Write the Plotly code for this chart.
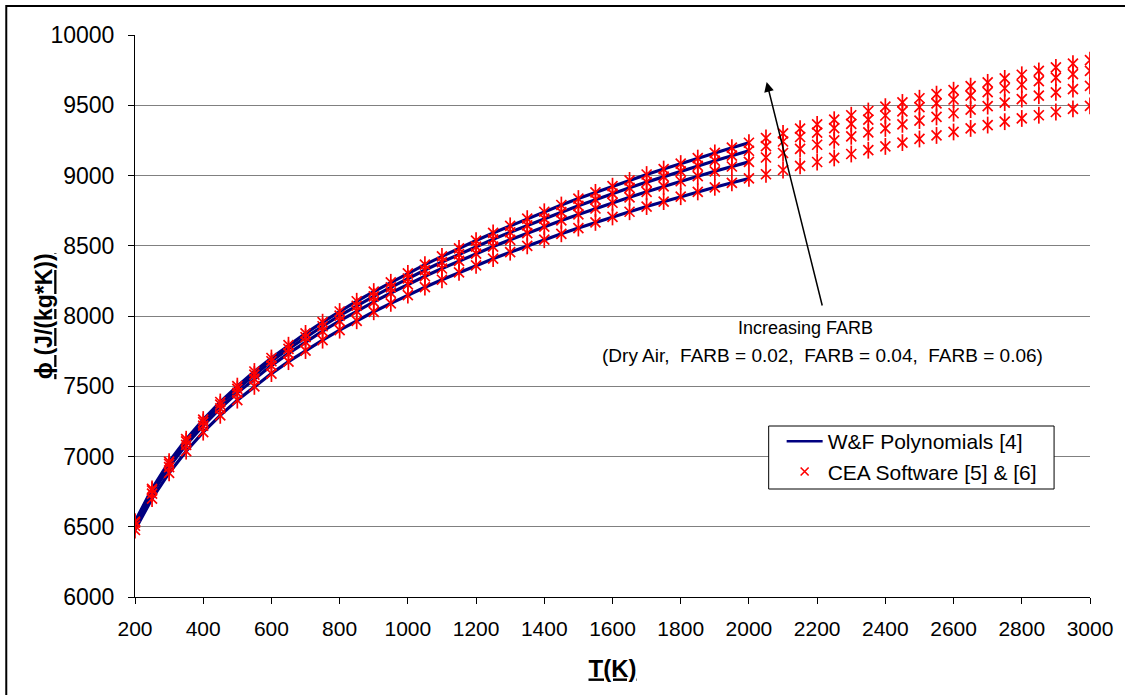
import plotly.graph_objects as go

# Temperature grid (K) for the CEA points, every 50 K
temps = list(range(200, 3001, 50))

# Entropy function phi (J/(kg*K)) per fuel-air ratio
phi_dry = [6477, 6700, 6883, 7038, 7173, 7293, 7401, 7499, 7590, 7675, 7754, 7828, 7899, 7966,
           8030, 8090, 8149, 8205, 8258, 8310, 8360, 8408, 8454, 8499, 8543, 8585, 8626, 8666,
           8705, 8742, 8779, 8814, 8849, 8883, 8916, 8948, 8979, 9009, 9039, 9068, 9096, 9125,
           9153, 9180, 9207, 9234, 9260, 9285, 9310, 9335, 9359, 9383, 9406, 9429, 9452, 9474, 9496]
phi_f02 = [6507, 6736, 6925, 7083, 7220, 7343, 7453, 7553, 7647, 7734, 7816, 7892, 7965, 8035,
           8101, 8164, 8225, 8283, 8338, 8392, 8444, 8494, 8542, 8590, 8636, 8680, 8723, 8765,
           8806, 8845, 8884, 8922, 8959, 8995, 9030, 9064, 9097, 9128, 9160, 9190, 9219, 9250,
           9279, 9307, 9335, 9364, 9391, 9417, 9443, 9469, 9494, 9519, 9544, 9568, 9592, 9615, 9638]
phi_f04 = [6529, 6758, 6948, 7107, 7245, 7369, 7481, 7583, 7678, 7766, 7849, 7927, 8002, 8073,
           8140, 8204, 8267, 8327, 8384, 8440, 8494, 8546, 8596, 8645, 8693, 8739, 8784, 8828,
           8871, 8912, 8953, 8992, 9030, 9068, 9105, 9141, 9176, 9209, 9242, 9274, 9305, 9337,
           9367, 9397, 9427, 9457, 9486, 9513, 9541, 9568, 9594, 9621, 9646, 9671, 9696, 9721, 9745]
phi_f06 = [6537, 6770, 6963, 7123, 7263, 7388, 7501, 7605, 7701, 7792, 7876, 7956, 8032, 8105,
           8174, 8240, 8304, 8366, 8424, 8482, 8537, 8591, 8642, 8693, 8742, 8790, 8836, 8880,
           8924, 8965, 9007, 9046, 9085, 9124, 9161, 9198, 9233, 9267, 9300, 9333, 9364, 9397,
           9429, 9459, 9490, 9520, 9550, 9579, 9607, 9636, 9663, 9691, 9717, 9744, 9770, 9796, 9821]

# Polynomial curves are valid up to 2000 K
wf_tmax = 2000

series = [phi_dry, phi_f02, phi_f04, phi_f06]

x_ticks = list(range(200, 3001, 200))
y_ticks = list(range(6000, 10001, 500))
y_tick_text = [str(v) for v in y_ticks]

FONT = "Arial, Liberation Sans, sans-serif"
NAVY = "#000080"
RED = "#ff0000"
NBSP2 = "\u00a0\u00a0"

fig = go.Figure()

# W&F polynomial lines
for ys in series:
    xs = [t for t in temps if t <= wf_tmax]
    fig.add_trace(go.Scatter(x=xs, y=ys[:len(xs)], mode="lines",
                             line=dict(color=NAVY, width=3.2),
                             showlegend=False, hoverinfo="skip"))

# CEA points: star marker built from an X plus a vertical bar
for ys in series:
    fig.add_trace(go.Scatter(x=temps, y=ys, mode="markers",
                             marker=dict(symbol="x-thin-open", size=10, color=RED,
                                         line=dict(color=RED, width=1.7)),
                             showlegend=False, hoverinfo="skip"))
    fig.add_trace(go.Scatter(x=temps, y=ys, mode="markers",
                             marker=dict(symbol="line-ns-open", size=12, color=RED,
                                         line=dict(color=RED, width=1.7)),
                             showlegend=False, hoverinfo="skip"))

# Legend entries
fig.add_trace(go.Scatter(x=[None], y=[None], mode="lines",
                         line=dict(color=NAVY, width=2.5),
                         name="W&F Polynomials [4]"))
fig.add_trace(go.Scatter(x=[None], y=[None], mode="markers",
                         marker=dict(symbol="x-thin-open", size=8, color=RED,
                                     line=dict(color=RED, width=1.6)),
                         name="CEA Software [5] & [6]"))

fig.add_annotation(x=2052, y=9665, ax=2216, ay=8064, xref="x", yref="y",
                   axref="x", ayref="y", showarrow=True, arrowhead=2,
                   arrowsize=1.3, arrowwidth=1.5, arrowcolor="black", text="")
fig.add_annotation(x=2166, y=7915, xref="x", yref="y", showarrow=False,
                   text="Increasing FARB",
                   font=dict(family=FONT, size=18, color="black"))
fig.add_annotation(x=2216, y=7722, xref="x", yref="y", showarrow=False,
                   text=NBSP2.join(["(Dry Air,", "FARB = 0.02,", "FARB = 0.04,", "FARB = 0.06)"]),
                   font=dict(family=FONT, size=19, color="black"))

# Y axis title, rotated
fig.add_annotation(x=-0.0951, y=0.5, xref="paper", yref="paper", showarrow=False,
                   text="<b><u>ϕ (J/(kg*K))</u></b>", textangle=-90,
                   xanchor="center", yanchor="middle",
                   font=dict(family=FONT, size=23, color="black"))

# Legend frame and outer chart border
fig.add_shape(type="rect", xref="paper", yref="paper", layer="above",
              x0=(770 - 135) / 957, x1=(1056 - 135) / 957,
              y0=1 - (489 - 35) / 562, y1=1 - (426 - 35) / 562,
              line=dict(color="black", width=1), fillcolor="white")
fig.add_shape(type="rect", xref="paper", yref="paper",
              x0=-0.1348, x1=1.08, y0=-0.3, y1=1.0516,
              line=dict(color="black", width=2), fillcolor="rgba(0,0,0,0)")

fig.update_layout(
    width=1125, height=695,
    margin=dict(l=135, r=33, t=35, b=98),
    paper_bgcolor="white", plot_bgcolor="white",
    font=dict(family=FONT, color="black"),
    showlegend=True,
    legend=dict(x=(783 - 135) / 957, y=1 - (421 - 35) / 562,
                xanchor="left", yanchor="top",
                bgcolor="rgba(0,0,0,0)", borderwidth=0,
                font=dict(family=FONT, size=21, color="black"),
                tracegroupgap=0, itemwidth=36),
    xaxis=dict(range=[200, 3000], tickvals=x_ticks, ticks="outside", ticklen=6,
               tickcolor="black", showline=True, linecolor="black", linewidth=1,
               showgrid=False, zeroline=False, ticklabelstandoff=7,
               tickfont=dict(family=FONT, size=21, color="black"),
               title=dict(text="<b><u>T(K)</u></b>", standoff=20,
                          font=dict(family=FONT, size=24, color="black"))),
    yaxis=dict(range=[6000, 10000], tickvals=y_ticks, ticktext=y_tick_text,
               ticks="outside", ticklen=6, ticklabelstandoff=9,
               tickcolor="black", showline=True, linecolor="black", linewidth=1,
               showgrid=True, gridcolor="#808080", gridwidth=1, zeroline=False,
               tickfont=dict(family=FONT, size=23, color="black")),
)

fig.write_html("out.html")
